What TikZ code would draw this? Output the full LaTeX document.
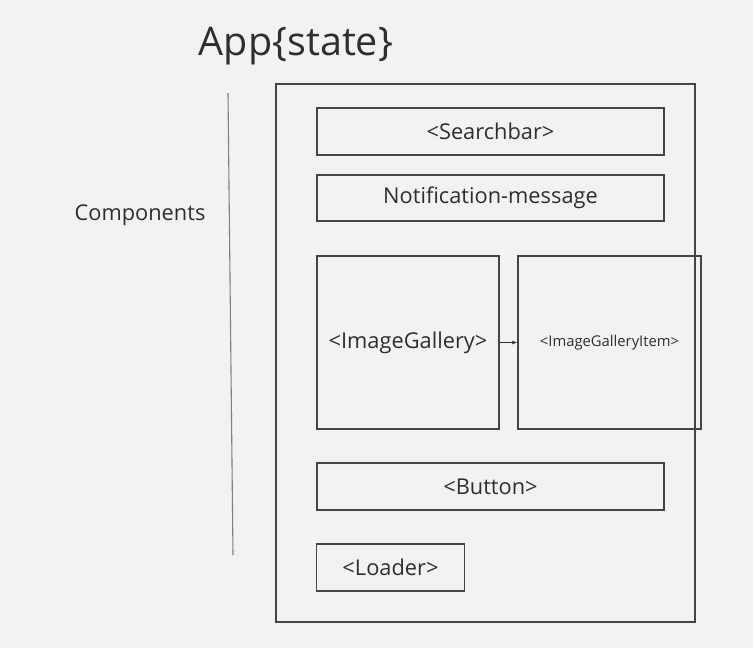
\documentclass[tikz,border=0pt]{standalone}
\usepackage{fontspec}
\setmainfont{Open Sans}
\usetikzlibrary{arrows.meta}
\definecolor{bg}{HTML}{F2F2F2}
\definecolor{ink}{HTML}{2E2E2E}
\definecolor{frame}{HTML}{444444}
\begin{document}
\begin{tikzpicture}[x=1pt,y=-1pt,
  box/.style={draw=frame,line width=1.3pt,text=ink,inner sep=0pt},
  txt/.style={text=ink,font=\fontsize{21.8}{26}\selectfont}]
\fill[bg] (0,0) rectangle (753,648);
\useasboundingbox (0,0) rectangle (753,648);
\node[txt,font=\fontsize{39.5}{46}\selectfont] (title) at (296,46) {App\{state\}};
\node[txt] (comp) at (140,215) {Components};
\coordinate (lt) at (228,93);
\coordinate (lb) at (233,555);
\draw[gray,line width=1.1pt] (lt) -- (lb);
\node[box,minimum width=419pt,minimum height=538pt] (outer) at (485.5,353) {};
\node[box,txt,minimum width=347pt,minimum height=47pt] (search) at (490.5,131.5) {<Searchbar>};
\node[box,txt,minimum width=347pt,minimum height=46pt] (notif) at (490.5,198) {Notification-message};
\node[box,txt,minimum width=182pt,minimum height=173pt] (gal) at (408,342.5) {<ImageGallery>};
\node[box,text=ink,font=\fontsize{14.8}{18}\selectfont,minimum width=183pt,minimum height=173pt] (item) at (609.5,342.5) {<ImageGalleryItem>};
\node[box,txt,minimum width=347pt,minimum height=47pt] (btn) at (490.5,486.5) {<Button>};
\node[box,txt,minimum width=148pt,minimum height=47pt] (load) at (390.5,567.5) {<Loader>};
\draw[ink,line width=1pt,-{Latex[length=5pt,width=4pt]}] (gal.east) -- (item.west);
\end{tikzpicture}
\end{document}
